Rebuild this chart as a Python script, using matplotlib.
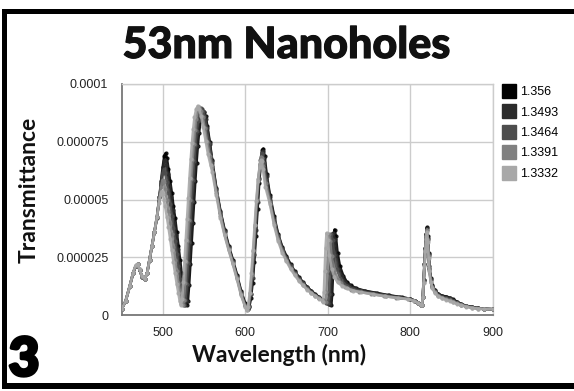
import matplotlib
matplotlib.use("Agg")
import matplotlib.pyplot as plt
from matplotlib.lines import Line2D
from matplotlib.patches import Rectangle
import matplotlib.patheffects as pe

# ---------------- data (transmittance in units of 1e-5) ----------------
labels = ["1.356", "1.3493", "1.3464", "1.3391", "1.3332"]
colors = ["#000000", "#2b2b2b", "#4d4d4d", "#808080", "#a8a8a8"]

pts_1356 = [(450,0.25),(455,0.6),(460,1.25),(464,1.8),(467,2.1),(469.5,2.2),(472,1.95),(475,1.65),(478,1.55),(481,1.8),(484,2.4),(487,3.0),(490,3.6),(493,4.2),(496,5.1),(498,5.8),(500,6.4),(502,6.9),(503.5,7.0),(505,6.8),(507,6.3),(509,5.8),(511,5.3),(513,4.7),(515,4.2),(517,3.6),(519,3.0),(521,2.4),(523,1.8),(525,1.2),(527,0.7),(529,0.45),(530.5,0.6),(532,1.3),(533.5,2.2),(535,3.1),(536.5,4.0),(538,4.9),(539.5,5.8),(541,6.6),(542.5,7.3),(544,7.9),(546,8.4),(548,8.7),(550,8.8),(552,8.6),(554,8.2),(557,7.5),(560,6.7),(565,5.5),(570,4.5),(575,3.7),(580,3.0),(585,2.4),(590,1.75),(595,1.05),(600,0.5),(603,0.3),(605,0.35),(607,0.75),(609,1.4),(611,2.3),(613,3.4),(615,4.6),(617,5.7),(619,6.6),(621,7.15),(622,7.2),(623.5,6.9),(626,6.1),(630,5.2),(635,4.3),(640,3.5),(645,2.95),(650,2.55),(655,2.2),(660,1.9),(665,1.65),(670,1.42),(675,1.22),(680,1.05),(685,0.9),(690,0.77),(695,0.65),(699,0.55),(702,0.48),(704.5,0.45),(705.5,0.9),(706.5,1.8),(707.5,2.9),(708.5,3.7),(710,3.4),(712,2.7),(715,2.1),(719,1.7),(723,1.45),(728,1.28),(735,1.15),(745,1.05),(760,0.95),(775,0.85),(790,0.77),(800,0.7),(806,0.62),(810,0.53),(813,0.45),(814.5,0.45),(815.5,0.8),(816.5,1.5),(817.5,2.2),(818.5,2.9),(819.5,3.5),(820.5,3.8),(821.5,3.4),(822.5,2.7),(823.5,2.1),(825,1.6),(827,1.3),(830,1.08),(834,0.92),(839,0.83),(844,0.8),(848,0.75),(852,0.68),(857,0.57),(862,0.47),(868,0.4),(875,0.35),(882,0.3),(890,0.27),(900,0.25)]

pts_13493 = [(450,0.25),(455,0.6),(460,1.25),(464,1.8),(467,2.1),(469.5,2.2),(472,1.95),(475,1.65),(478,1.55),(481,1.8),(484,2.4),(487,3.0),(490,3.6),(493,4.25),(496,5.1),(498,5.7),(500,6.25),(502,6.65),(503,6.7),(504.5,6.5),(506,6.1),(508,5.6),(510,5.1),(512,4.55),(514,4.0),(516,3.45),(518,2.85),(520,2.25),(522,1.65),(524,1.1),(526,0.65),(527.5,0.45),(529,0.6),(530.5,1.3),(532,2.2),(533.5,3.1),(535,4.0),(536.5,4.9),(538,5.8),(539.5,6.6),(541,7.3),(542.5,7.9),(544,8.4),(546,8.75),(548,8.9),(550,8.8),(552,8.5),(554,8.1),(557,7.4),(560,6.65),(565,5.45),(570,4.45),(575,3.65),(580,2.95),(585,2.35),(590,1.7),(595,1.0),(600,0.45),(603,0.28),(605,0.4),(607,0.9),(609,1.6),(611,2.6),(613,3.7),(615,4.9),(617,5.9),(619,6.7),(620.5,7.05),(621.5,7.1),(623,6.8),(626,6.0),(630,5.1),(635,4.2),(640,3.45),(645,2.9),(650,2.5),(655,2.15),(660,1.87),(665,1.62),(670,1.4),(675,1.2),(680,1.03),(685,0.88),(690,0.75),(695,0.63),(699,0.52),(701.5,0.47),(703,0.48),(704,0.9),(705,1.8),(706,2.8),(707,3.55),(708.5,3.3),(710.5,2.6),(713.5,2.0),(717,1.7),(721,1.45),(726,1.28),(733,1.15),(743,1.05),(758,0.95),(773,0.85),(788,0.77),(800,0.7),(806,0.62),(810,0.53),(813,0.45),(814.5,0.45),(815.5,0.8),(816.5,1.5),(817.5,2.2),(818.5,2.9),(819.5,3.5),(820.5,3.75),(821.5,3.35),(822.5,2.65),(823.5,2.05),(825,1.55),(827,1.27),(830,1.05),(834,0.9),(839,0.81),(844,0.77),(848,0.72),(852,0.65),(857,0.55),(862,0.46),(868,0.39),(875,0.34),(882,0.3),(890,0.27),(900,0.25)]

pts_13464 = [(450,0.25),(455,0.6),(460,1.25),(464,1.8),(467,2.1),(469.5,2.2),(472,1.95),(475,1.65),(478,1.55),(481,1.8),(484,2.4),(487,3.0),(490,3.6),(493,4.25),(496,5.1),(498,5.65),(500,6.15),(501.5,6.3),(503,6.15),(505,5.75),(507,5.3),(509,4.8),(511,4.3),(513,3.75),(515,3.2),(517,2.65),(519,2.1),(521,1.55),(523,1.05),(525,0.6),(526,0.45),(527.5,0.65),(529,1.35),(530.5,2.25),(532,3.15),(533.5,4.05),(535,4.95),(536.5,5.85),(538,6.65),(539.5,7.35),(541,7.95),(542.5,8.4),(544.5,8.8),(546.5,8.95),(548.5,8.85),(550.5,8.6),(553,8.1),(556,7.45),(560,6.6),(565,5.4),(570,4.4),(575,3.6),(580,2.9),(585,2.3),(590,1.65),(595,0.95),(600,0.42),(603,0.25),(604.5,0.38),(606.5,0.9),(608.5,1.65),(610.5,2.65),(612.5,3.8),(614.5,4.95),(616.5,5.95),(618.5,6.7),(620,7.0),(621,6.95),(622.5,6.6),(625.5,5.85),(630,5.0),(635,4.1),(640,3.4),(645,2.85),(650,2.45),(655,2.1),(660,1.83),(665,1.58),(670,1.37),(675,1.17),(680,1.0),(685,0.86),(690,0.73),(695,0.62),(698.5,0.53),(700.5,0.5),(701.5,0.9),(702.5,1.8),(703.5,2.8),(704.5,3.5),(706,3.25),(708,2.6),(711,2.0),(715,1.62),(719,1.4),(724,1.25),(731,1.12),(741,1.03),(756,0.93),(771,0.84),(786,0.76),(800,0.69),(806,0.61),(810,0.52),(813,0.44),(814.5,0.45),(815.5,0.8),(816.5,1.5),(817.5,2.2),(818.5,2.85),(819.5,3.45),(820.5,3.7),(821.5,3.3),(822.5,2.6),(823.5,2.0),(825,1.5),(827,1.23),(830,1.02),(834,0.87),(839,0.78),(844,0.73),(848,0.68),(852,0.62),(857,0.53),(862,0.45),(868,0.38),(875,0.33),(882,0.29),(890,0.26),(900,0.25)]

pts_13391 = [(450,0.25),(455,0.6),(460,1.25),(464,1.8),(467,2.12),(469.5,2.2),(472,1.95),(475,1.65),(478,1.55),(481,1.8),(484,2.4),(487,3.0),(490,3.6),(493,4.25),(496,5.05),(498,5.55),(500,5.85),(501.5,5.75),(503,5.45),(505,5.0),(507,4.5),(509,4.0),(511,3.5),(513,2.95),(515,2.4),(517,1.9),(519,1.4),(521,0.95),(523,0.55),(524,0.43),(525.5,0.65),(527,1.4),(528.5,2.3),(530,3.2),(531.5,4.1),(533,5.0),(534.5,5.9),(536,6.7),(537.5,7.4),(539,8.0),(540.5,8.5),(542.5,8.85),(544.5,9.0),(546.5,8.85),(548.5,8.55),(551,8.1),(554,7.5),(557,6.9),(560,6.4),(565,5.3),(570,4.3),(575,3.5),(580,2.85),(585,2.25),(590,1.6),(595,0.9),(600,0.38),(602.5,0.22),(604,0.38),(606,0.95),(608,1.75),(610,2.75),(612,3.9),(614,5.0),(616,5.9),(618,6.55),(619.5,6.85),(620.5,6.8),(622,6.45),(625,5.7),(630,4.9),(635,4.0),(640,3.3),(645,2.78),(650,2.4),(655,2.05),(660,1.78),(665,1.53),(670,1.32),(675,1.13),(680,0.97),(685,0.84),(690,0.72),(694,0.62),(697.5,0.56),(698.5,1.0),(699.5,1.9),(700.5,2.9),(701.5,3.5),(703,3.2),(705,2.55),(708,1.95),(712,1.58),(716,1.37),(721,1.22),(728,1.1),(738,1.01),(753,0.91),(768,0.82),(783,0.75),(798,0.69),(805,0.62),(810,0.52),(813,0.44),(814.5,0.45),(815.5,0.8),(816.5,1.45),(817.5,2.15),(818.5,2.8),(819.5,3.4),(820.5,3.7),(821.5,3.25),(822.5,2.55),(823.5,1.95),(825,1.45),(827,1.2),(830,0.99),(834,0.84),(839,0.75),(844,0.69),(848,0.63),(852,0.58),(857,0.5),(862,0.43),(868,0.37),(875,0.32),(882,0.28),(890,0.26),(900,0.25)]

pts_13332 = [(450,0.25),(455,0.6),(460,1.25),(464,1.82),(467,2.15),(469.5,2.22),(472,1.97),(475,1.67),(478,1.57),(481,1.8),(484,2.4),(487,3.0),(490,3.6),(493,4.25),(495.5,4.85),(497.5,5.25),(498.7,5.35),(500,5.25),(501.5,5.0),(503,4.7),(505,4.25),(507,3.8),(509,3.3),(511,2.8),(513,2.3),(515,1.8),(517,1.35),(519,0.95),(520.5,0.62),(522,0.42),(523.5,0.7),(525,1.45),(526.5,2.35),(528,3.25),(529.5,4.15),(531,5.05),(532.5,5.95),(534,6.75),(535.5,7.45),(537,8.05),(538.5,8.55),(540.5,8.9),(542.5,9.05),(544.5,8.9),(546.5,8.6),(549,8.15),(552,7.55),(555,6.95),(558,6.5),(560,6.2),(565,5.2),(570,4.2),(575,3.45),(580,2.8),(585,2.2),(590,1.55),(595,0.85),(600,0.35),(602,0.22),(603.5,0.35),(605.5,0.95),(607.5,1.8),(609.5,2.8),(611.5,3.9),(613.5,4.95),(615.5,5.8),(617.5,6.4),(619,6.7),(620,6.65),(621.5,6.3),(624.5,5.55),(630,4.8),(635,3.9),(640,3.2),(645,2.7),(650,2.33),(655,2.0),(660,1.73),(665,1.48),(670,1.28),(675,1.1),(680,0.95),(685,0.82),(690,0.7),(694.5,0.58),(695.5,1.0),(696.5,1.9),(697.5,2.9),(698.7,3.55),(700,3.25),(702,2.6),(705,2.0),(708,1.65),(712,1.42),(717,1.27),(723,1.15),(731,1.05),(741,0.98),(755,0.9),(770,0.81),(785,0.74),(798,0.68),(805,0.61),(810,0.51),(813,0.43),(814.5,0.44),(815.5,0.78),(816.5,1.4),(817.5,2.1),(818.5,2.75),(819.5,3.3),(820.5,3.6),(821.5,3.15),(822.5,2.45),(823.5,1.9),(825,1.42),(827,1.17),(830,0.96),(834,0.81),(839,0.72),(844,0.65),(848,0.6),(852,0.55),(857,0.48),(862,0.42),(868,0.36),(875,0.31),(882,0.28),(890,0.26),(900,0.25)]

series = [pts_1356, pts_13493, pts_13464, pts_13391, pts_13332]

xticks = [500, 600, 700, 800, 900]
yticks = [0, 2.5, 5, 7.5, 10]
ytick_labels = ["0", "0.000025", "0.00005", "0.000075", "0.0001"]

title = "53nm Nanoholes"
xlabel = "Wavelength (nm)"
ylabel = "Transmittance"
panel = "3"

# ---------------- figure ----------------
W, H = 574, 391
fig = plt.figure(figsize=(W / 100, H / 100), dpi=100)
fig.patch.set_facecolor("white")

def fx(px):
    return px / W

def fy(py):
    return 1 - py / H

ax = fig.add_axes([fx(121.5), fy(315), fx(492.5) - fx(121.5), fy(84) - fy(315)])

for pts, col in zip(series, colors):
    xs = [p[0] for p in pts]
    ys = [p[1] for p in pts]
    ax.plot(xs, ys, color=col, lw=1.9, marker="o", ms=3.0, mec="none", alpha=0.9,
            zorder=3, solid_joinstyle="round")

ax.set_xlim(450, 900)
ax.set_ylim(0, 10)
ax.set_xticks(xticks)
ax.set_yticks(yticks)
ax.set_yticklabels(ytick_labels)
ax.grid(True, color="#cccccc", lw=1)
ax.set_axisbelow(True)
ax.tick_params(length=0, labelsize=9, labelcolor="#222222")
ax.tick_params(axis="y", pad=9.5)
ax.tick_params(axis="x", pad=8.5)
for lab in ax.get_xticklabels() + ax.get_yticklabels():
    lab.set_fontfamily("Liberation Sans")
for s in ["top", "right"]:
    ax.spines[s].set_color("#cccccc")
    ax.spines[s].set_linewidth(1)
for s in ["left", "bottom"]:
    ax.spines[s].set_color("#777777")
    ax.spines[s].set_linewidth(1.3)

# texts
fig.text(fx(286), fy(45), title, ha="center", va="center", fontsize=31,
         fontfamily="Lato", fontweight="black", color="#111111",
         path_effects=[pe.withStroke(linewidth=0.8, foreground="#111111")])
fig.text(fx(279), fy(355), xlabel, ha="center", va="center", fontsize=16.5,
         fontfamily="Lato", fontweight="bold", color="#111111")
fig.text(fx(29), fy(190), ylabel, ha="center", va="center", fontsize=16.5,
         fontfamily="Lato", fontweight="bold", color="#111111", rotation=90)
fig.text(fx(24), fy(360), panel, ha="center", va="center", fontsize=38,
         fontfamily="Lato", fontweight="black", color="#000000",
         path_effects=[pe.withStroke(linewidth=2.5, foreground="#000000")])

# legend
handles = [Line2D([], [], marker="s", ls="None", ms=9.5, color=c, mec=c) for c in colors]
fig.legend(handles, labels, loc="upper left", bbox_to_anchor=(fx(503), fy(86)),
           frameon=False, prop={"family": "Liberation Sans", "size": 9},
           handlelength=0.9, handletextpad=0.45, labelspacing=0.68,
           borderpad=0, borderaxespad=0)

# black frame (left, top, bottom)
frame_col = "#000000"
fig.add_artist(Rectangle((fx(1.5), fy(389)), fx(5), fy(9) - fy(389), transform=fig.transFigure,
                         color=frame_col, lw=0))
fig.add_artist(Rectangle((fx(1.5), fy(13.5)), 1, fy(9) - fy(13.5), transform=fig.transFigure,
                         color=frame_col, lw=0))
fig.add_artist(Rectangle((fx(1.5), fy(389)), 1, fy(383.5) - fy(389), transform=fig.transFigure,
                         color=frame_col, lw=0))

fig.savefig("out.png", dpi=100)
